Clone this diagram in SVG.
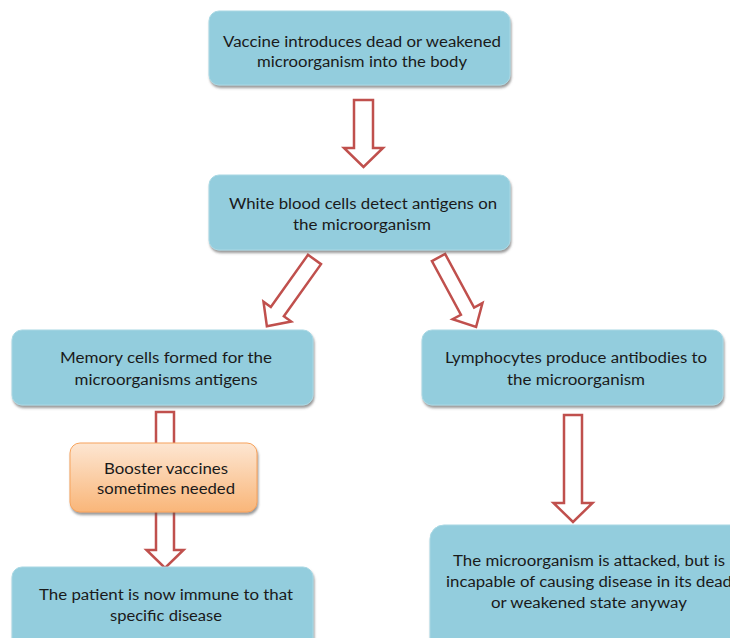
<svg xmlns="http://www.w3.org/2000/svg" width="730" height="638" viewBox="0 0 730 638">
<defs>
<filter id="sh" x="-10%" y="-10%" width="120%" height="130%">
<feDropShadow dx="1" dy="2.5" stdDeviation="1.2" flood-color="#555" flood-opacity="0.6"/>
</filter>
<linearGradient id="og" x1="0" y1="0" x2="0" y2="1">
<stop offset="0" stop-color="#fde6d2"/>
<stop offset="1" stop-color="#f9b679"/>
</linearGradient>
</defs>
<style>
.box{fill:#93cddd;stroke:#a9d8e4;stroke-width:1;filter:url(#sh)}
.obox{fill:url(#og);stroke:#f7a35c;stroke-width:1;filter:url(#sh)}
.arr{fill:#ffffff;stroke:#c0504d;stroke-width:2.5;stroke-linejoin:miter}
text{font-family:Lato,"Open Sans","Liberation Sans",sans-serif;font-size:15.5px;fill:#1a1a1a;text-anchor:middle}
</style>
<g id="connectors">
<path class="arr" transform="translate(363.5,100)" d="M-9.5,0 L9.5,0 L9.5,48 L19.5,48 L0,67 L-19.5,48 L-9.5,48 Z"/>
<path class="arr" transform="translate(314.5,259.5) rotate(35.5)" d="M-8,0 L8,0 L8,64 L17,64 L0,82 L-17,64 L-8,64 Z"/>
<path class="arr" transform="translate(438.5,257.5) rotate(-28.4)" d="M-7.5,0 L7.5,0 L7.5,61 L17,61 L0,79 L-17,61 L-7.5,61 Z"/>
<path class="arr" transform="translate(573,415)" d="M-9,0 L9,0 L9,88 L19.5,88 L0,107 L-19.5,88 L-9,88 Z"/>
<path class="arr" transform="translate(165,412)" d="M-9,0 L9,0 L9,138 L18.5,138 L0,156 L-18.5,138 L-9,138 Z"/>
</g>
<g id="n1">
<rect class="box" x="209" y="11" width="301" height="74" rx="10"/>
<text x="362" y="47" textLength="278" lengthAdjust="spacingAndGlyphs">Vaccine introduces dead or weakened</text>
<text x="362" y="67" textLength="210" lengthAdjust="spacingAndGlyphs">microorganism into the body</text>
</g>
<g id="n2">
<rect class="box" x="209" y="175" width="301" height="75" rx="10"/>
<text x="363" y="209" textLength="268" lengthAdjust="spacingAndGlyphs">White blood cells detect antigens on</text>
<text x="362" y="230" textLength="138" lengthAdjust="spacingAndGlyphs">the microorganism</text>
</g>
<g id="n3">
<rect class="box" x="12" y="330" width="301" height="75" rx="10"/>
<text x="166" y="363" textLength="212" lengthAdjust="spacingAndGlyphs">Memory cells formed for the</text>
<text x="166" y="385" textLength="183" lengthAdjust="spacingAndGlyphs">microorganisms antigens</text>
</g>
<g id="n4">
<rect class="box" x="422" y="330" width="301" height="75" rx="10"/>
<text x="576" y="363" textLength="262" lengthAdjust="spacingAndGlyphs">Lymphocytes produce antibodies to</text>
<text x="576" y="385" textLength="138" lengthAdjust="spacingAndGlyphs">the microorganism</text>
</g>
<g id="n5">
<rect class="obox" x="70" y="443" width="187" height="69" rx="10"/>
<text x="166" y="474" textLength="124" lengthAdjust="spacingAndGlyphs">Booster vaccines</text>
<text x="166" y="494" textLength="138" lengthAdjust="spacingAndGlyphs">sometimes needed</text>
</g>
<g id="n6">
<rect class="box" x="12" y="567" width="301" height="85" rx="10"/>
<text x="166" y="600" textLength="254" lengthAdjust="spacingAndGlyphs">The patient is now immune to that</text>
<text x="166" y="621" textLength="112" lengthAdjust="spacingAndGlyphs">specific disease</text>
</g>
<g id="n7">
<rect class="box" x="430" y="525" width="318" height="130" rx="14"/>
<text x="589" y="566" textLength="272" lengthAdjust="spacingAndGlyphs">The microorganism is attacked, but is</text>
<text x="589" y="587" textLength="286" lengthAdjust="spacingAndGlyphs">incapable of causing disease in its dead</text>
<text x="589" y="608" textLength="196" lengthAdjust="spacingAndGlyphs">or weakened state anyway</text>
</g>
</svg>
